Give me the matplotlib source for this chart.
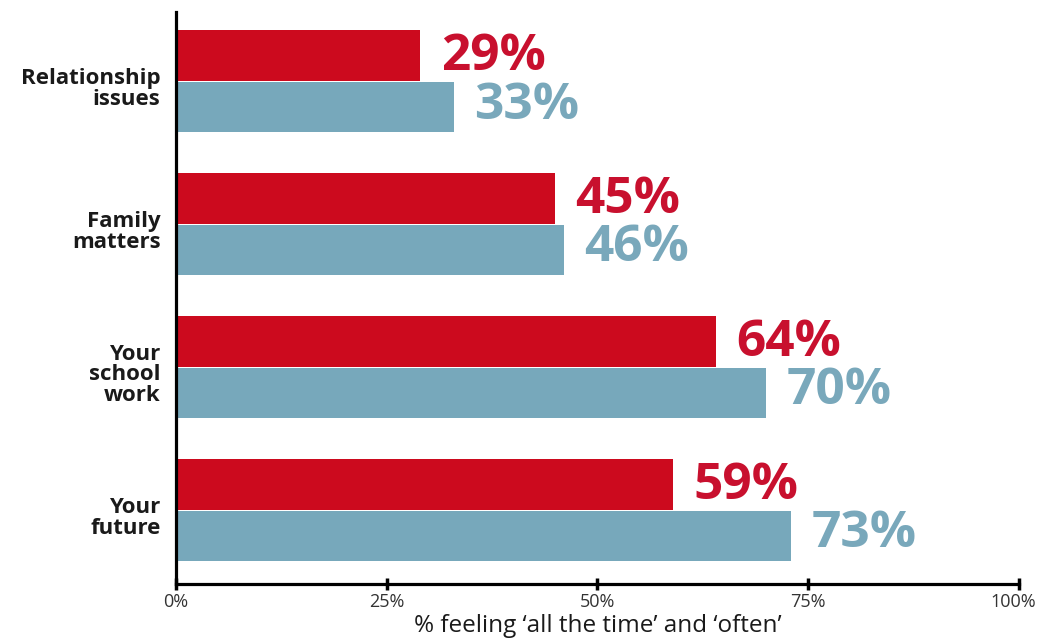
# Worry survey: horizontal paired bars, red vs blue series

import matplotlib.pyplot as plt
import matplotlib.transforms as mtransforms
import numpy as np

# ── DATA ───────────────────────────────────────────────
categories = ['Relationship\nissues', 'Family\nmatters', 'Your\nschool\nwork', 'Your\nfuture']
red_values = [29, 45, 64, 59]
blue_values = [33, 46, 70, 73]
xticks = [0, 25, 50, 75, 100]
xtick_labels = ['0%', '25%', '50%', '75%', '100%']

RED = '#cc0a1e'
BLUE = '#77a8bb'
RED_TXT = '#c8102e'
BLUE_TXT = '#79a8bb'

plt.rcParams['font.family'] = ['Open Sans', 'DejaVu Sans']

# ── PLOT ───────────────────────────────────────────────
fig = plt.figure(figsize=(10.4, 6.4), dpi=100)
ax = fig.add_axes([0.169, 0.0875, 0.811, 0.8935])

y = np.arange(len(categories))
h = 0.352
ax.barh(y - 0.18, red_values, height=h, color=RED, edgecolor='none')
ax.barh(y + 0.18, blue_values, height=h, color=BLUE, edgecolor='none')

for yi, v in zip(y, red_values):
    ax.text(v + 2.4, yi - 0.17, f'{v}%', color=RED_TXT, fontsize=37,
            fontweight='bold', va='center', ha='left')
for yi, v in zip(y, blue_values):
    ax.text(v + 2.4, yi + 0.17, f'{v}%', color=BLUE_TXT, fontsize=37,
            fontweight='bold', va='center', ha='left')

ax.set_xlim(0, 100)
ax.set_ylim(3.517, -0.483)
ax.set_yticks(y + 0.04)
ax.set_yticklabels(categories, fontsize=16, fontweight='bold', color='#1a1a1a',
                   linespacing=0.95)
ax.tick_params(axis='y', length=0, pad=11)

ax.set_xticks(xticks)
ax.set_xticklabels(xtick_labels, fontsize=13, color='#333333')
ax.tick_params(axis='x', direction='inout', length=9, width=2.5, color='black', pad=2)
# nudge the 100% label left so it stays inside the figure
last = ax.get_xticklabels()[-1]
last.set_transform(last.get_transform() +
                   mtransforms.ScaledTranslation(-6 / 100, 0, fig.dpi_scale_trans))
ax.set_xlabel('% feeling \u2018all the time\u2019 and \u2018often\u2019',
              fontsize=17.5, color='#1a1a1a', labelpad=2)

for s in ['top', 'right']:
    ax.spines[s].set_visible(False)
for s in ['left', 'bottom']:
    ax.spines[s].set_linewidth(2.3)
    ax.spines[s].set_color('black')

fig.savefig('out.png', dpi=100, facecolor='white')
